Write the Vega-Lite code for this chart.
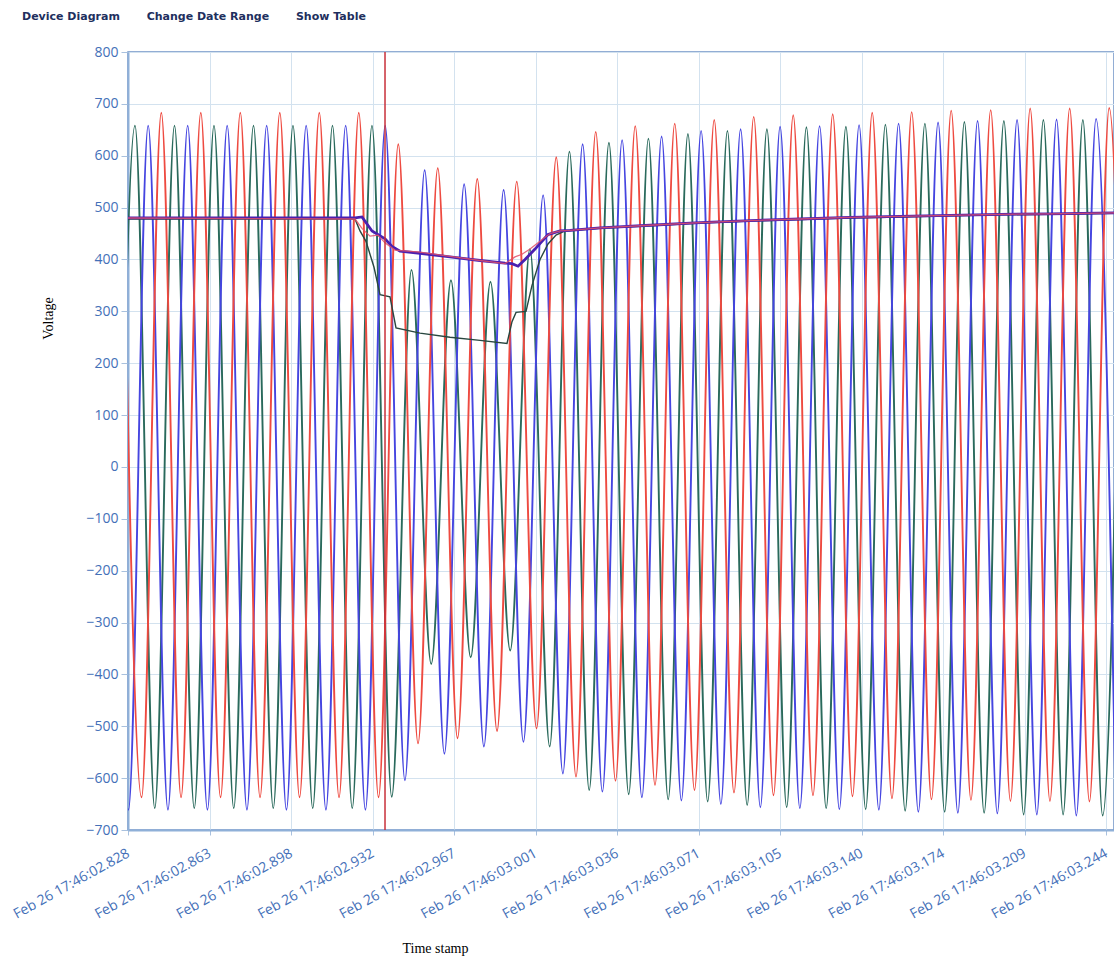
{
  "$schema": "https://vega.github.io/schema/vega-lite/v6.json",
  "autosize": {"type": "none"},
  "padding": {"left": 128, "top": 52, "right": 0, "bottom": 132},
  "width": 986,
  "height": 778,
  "background": "white",
  "title": {
    "text": "Device Diagram\u00a0\u00a0\u00a0\u00a0\u00a0\u00a0\u00a0Change Date Range\u00a0\u00a0\u00a0\u00a0\u00a0\u00a0\u00a0Show Table",
    "anchor": "start",
    "frame": "group",
    "dx": -106,
    "offset": 23,
    "font": "DejaVu Sans",
    "fontSize": 11,
    "fontWeight": "bold",
    "color": "#1e2f5e"
  },
  "config": {
    "view": {"stroke": "#6f93c6", "strokeWidth": 1.5},
    "axis": {
      "labelFont": "Open Sans",
      "labelFontSize": 14,
      "labelColor": "#4470b8",
      "gridColor": "#d3e2ef",
      "gridWidth": 1,
      "tickColor": "#a9c1de",
      "domainColor": "#8fb0d8",
      "domainWidth": 2,
      "titleFont": "Liberation Serif",
      "titleFontSize": 14,
      "titleFontWeight": "normal",
      "titleColor": "#000000"
    }
  },
  "datasets": {
    "waves": [
      {"p":"T","t":2822.92,"v":-658},{"p":"T","t":2831.30,"v":658},{"p":"T","t":2839.69,"v":-658},{"p":"T","t":2848.07,"v":658},
      {"p":"T","t":2856.46,"v":-658},{"p":"T","t":2864.84,"v":658},{"p":"T","t":2873.23,"v":-658},{"p":"T","t":2881.61,"v":658},
      {"p":"T","t":2890.00,"v":-658},{"p":"T","t":2898.38,"v":658},{"p":"T","t":2906.77,"v":-658},{"p":"T","t":2915.15,"v":658},
      {"p":"T","t":2923.54,"v":-658},{"p":"T","t":2931.92,"v":658},{"p":"T","t":2940.31,"v":-636},{"p":"T","t":2948.69,"v":380},
      {"p":"T","t":2957.08,"v":-380},{"p":"T","t":2965.46,"v":360},{"p":"T","t":2973.85,"v":-367},{"p":"T","t":2982.23,"v":357},
      {"p":"T","t":2990.62,"v":-354},{"p":"T","t":2999.00,"v":420},{"p":"T","t":3007.39,"v":-539},{"p":"T","t":3015.77,"v":608},
      {"p":"T","t":3024.16,"v":-623},{"p":"T","t":3032.54,"v":625},{"p":"T","t":3040.93,"v":-631},{"p":"T","t":3049.31,"v":633},
      {"p":"T","t":3057.70,"v":-641},{"p":"T","t":3066.08,"v":642},{"p":"T","t":3074.47,"v":-645},{"p":"T","t":3082.85,"v":648},
      {"p":"T","t":3091.24,"v":-652},{"p":"T","t":3099.62,"v":651},{"p":"T","t":3108.01,"v":-656},{"p":"T","t":3116.39,"v":655},
      {"p":"T","t":3124.78,"v":-658},{"p":"T","t":3133.16,"v":656},{"p":"T","t":3141.55,"v":-660},{"p":"T","t":3149.93,"v":660},
      {"p":"T","t":3158.32,"v":-663},{"p":"T","t":3166.70,"v":662},{"p":"T","t":3175.09,"v":-665},{"p":"T","t":3183.47,"v":665},
      {"p":"T","t":3191.86,"v":-667},{"p":"T","t":3200.24,"v":667},{"p":"T","t":3208.63,"v":-670},{"p":"T","t":3217.01,"v":669},
      {"p":"T","t":3225.40,"v":-670},{"p":"T","t":3233.78,"v":669},{"p":"T","t":3242.17,"v":-672},{"p":"T","t":3250.55,"v":671},

      {"p":"B","t":2820.13,"v":658},{"p":"B","t":2828.52,"v":-661},{"p":"B","t":2836.90,"v":658},{"p":"B","t":2845.29,"v":-661},
      {"p":"B","t":2853.67,"v":658},{"p":"B","t":2862.06,"v":-661},{"p":"B","t":2870.44,"v":658},{"p":"B","t":2878.83,"v":-661},
      {"p":"B","t":2887.21,"v":658},{"p":"B","t":2895.60,"v":-661},{"p":"B","t":2903.98,"v":658},{"p":"B","t":2912.37,"v":-661},
      {"p":"B","t":2920.75,"v":658},{"p":"B","t":2929.14,"v":-661},{"p":"B","t":2937.52,"v":658},{"p":"B","t":2945.91,"v":-604},
      {"p":"B","t":2954.29,"v":572},{"p":"B","t":2962.68,"v":-553},{"p":"B","t":2971.06,"v":545},{"p":"B","t":2979.45,"v":-539},
      {"p":"B","t":2987.83,"v":534},{"p":"B","t":2996.22,"v":-530},{"p":"B","t":3004.60,"v":524},{"p":"B","t":3012.99,"v":-591},
      {"p":"B","t":3021.37,"v":622},{"p":"B","t":3029.76,"v":-626},{"p":"B","t":3038.14,"v":630},{"p":"B","t":3046.53,"v":-637},
      {"p":"B","t":3054.91,"v":637},{"p":"B","t":3063.30,"v":-643},{"p":"B","t":3071.68,"v":648},{"p":"B","t":3080.07,"v":-650},
      {"p":"B","t":3088.45,"v":651},{"p":"B","t":3096.84,"v":-656},{"p":"B","t":3105.22,"v":656},{"p":"B","t":3113.61,"v":-658},
      {"p":"B","t":3121.99,"v":657},{"p":"B","t":3130.38,"v":-660},{"p":"B","t":3138.76,"v":659},{"p":"B","t":3147.15,"v":-661},
      {"p":"B","t":3155.53,"v":662},{"p":"B","t":3163.92,"v":-665},{"p":"B","t":3172.30,"v":664},{"p":"B","t":3180.69,"v":-667},
      {"p":"B","t":3189.07,"v":667},{"p":"B","t":3197.46,"v":-668},{"p":"B","t":3205.84,"v":669},{"p":"B","t":3214.23,"v":-670},
      {"p":"B","t":3222.61,"v":670},{"p":"B","t":3231.00,"v":-672},{"p":"B","t":3239.38,"v":671},{"p":"B","t":3247.77,"v":-673},

      {"p":"R","t":2825.70,"v":683},{"p":"R","t":2834.09,"v":-637},{"p":"R","t":2842.47,"v":683},{"p":"R","t":2850.86,"v":-637},
      {"p":"R","t":2859.24,"v":683},{"p":"R","t":2867.63,"v":-637},{"p":"R","t":2876.01,"v":683},{"p":"R","t":2884.40,"v":-637},
      {"p":"R","t":2892.78,"v":683},{"p":"R","t":2901.17,"v":-637},{"p":"R","t":2909.55,"v":683},{"p":"R","t":2917.94,"v":-637},
      {"p":"R","t":2926.32,"v":683},{"p":"R","t":2934.71,"v":-637},{"p":"R","t":2943.09,"v":622},{"p":"R","t":2951.48,"v":-533},
      {"p":"R","t":2959.86,"v":576},{"p":"R","t":2968.25,"v":-523},{"p":"R","t":2976.63,"v":555},{"p":"R","t":2985.02,"v":-509},
      {"p":"R","t":2993.40,"v":550},{"p":"R","t":3001.79,"v":-504},{"p":"R","t":3010.17,"v":597},{"p":"R","t":3018.56,"v":-597},
      {"p":"R","t":3026.94,"v":646},{"p":"R","t":3035.33,"v":-605},{"p":"R","t":3043.71,"v":657},{"p":"R","t":3052.10,"v":-613},
      {"p":"R","t":3060.48,"v":662},{"p":"R","t":3068.87,"v":-623},{"p":"R","t":3077.25,"v":669},{"p":"R","t":3085.64,"v":-628},
      {"p":"R","t":3094.02,"v":675},{"p":"R","t":3102.41,"v":-633},{"p":"R","t":3110.79,"v":678},{"p":"R","t":3119.18,"v":-633},
      {"p":"R","t":3127.56,"v":680},{"p":"R","t":3135.95,"v":-635},{"p":"R","t":3144.33,"v":683},{"p":"R","t":3152.72,"v":-639},
      {"p":"R","t":3161.10,"v":684},{"p":"R","t":3169.49,"v":-641},{"p":"R","t":3177.87,"v":687},{"p":"R","t":3186.26,"v":-642},
      {"p":"R","t":3194.64,"v":688},{"p":"R","t":3203.03,"v":-644},{"p":"R","t":3211.41,"v":691},{"p":"R","t":3219.80,"v":-644},
      {"p":"R","t":3228.18,"v":691},{"p":"R","t":3236.57,"v":-645},{"p":"R","t":3244.95,"v":692},{"p":"R","t":3253.34,"v":-646}
    ],
    "rms": [
      {"p":"T","t":2824.93,"v":478},{"p":"T","t":2924.72,"v":478},{"p":"T","t":2926.84,"v":455},{"p":"T","t":2929.39,"v":435},
      {"p":"T","t":2932.79,"v":385},{"p":"T","t":2935.34,"v":332},{"p":"T","t":2939.58,"v":328},{"p":"T","t":2942.13,"v":268},
      {"p":"T","t":2952.32,"v":258},{"p":"T","t":2965.06,"v":250},{"p":"T","t":2977.80,"v":244},{"p":"T","t":2989.26,"v":238},
      {"p":"T","t":2991.39,"v":280},{"p":"T","t":2993.09,"v":298},{"p":"T","t":2997.33,"v":300},{"p":"T","t":2999.88,"v":350},
      {"p":"T","t":3003.28,"v":400},{"p":"T","t":3006.67,"v":430},{"p":"T","t":3010.07,"v":447},{"p":"T","t":3013.89,"v":455},
      {"p":"T","t":3028.76,"v":460},{"p":"T","t":3049.99,"v":465},{"p":"T","t":3071.22,"v":470},{"p":"T","t":3092.45,"v":474},
      {"p":"T","t":3113.68,"v":477},{"p":"T","t":3134.91,"v":480},{"p":"T","t":3156.14,"v":482},{"p":"T","t":3177.38,"v":484},
      {"p":"T","t":3198.61,"v":486},{"p":"T","t":3219.84,"v":487},{"p":"T","t":3249.56,"v":489},

      {"p":"R","t":2824.93,"v":480},{"p":"R","t":2924.72,"v":478},{"p":"R","t":2927.69,"v":460},{"p":"R","t":2931.09,"v":445},
      {"p":"R","t":2934.49,"v":447},{"p":"R","t":2937.46,"v":432},{"p":"R","t":2941.71,"v":418},{"p":"R","t":2952.32,"v":414},
      {"p":"R","t":2965.06,"v":406},{"p":"R","t":2977.80,"v":398},{"p":"R","t":2988.42,"v":392},{"p":"R","t":2992.66,"v":405},
      {"p":"R","t":2995.63,"v":410},{"p":"R","t":2999.03,"v":420},{"p":"R","t":3003.28,"v":435},{"p":"R","t":3007.52,"v":450},
      {"p":"R","t":3011.77,"v":455},{"p":"R","t":3016.02,"v":456},{"p":"R","t":3028.76,"v":461},{"p":"R","t":3049.99,"v":466},
      {"p":"R","t":3071.22,"v":471},{"p":"R","t":3092.45,"v":475},{"p":"R","t":3113.68,"v":478},{"p":"R","t":3134.91,"v":481},
      {"p":"R","t":3156.14,"v":483},{"p":"R","t":3177.38,"v":485},{"p":"R","t":3198.61,"v":487},{"p":"R","t":3219.84,"v":488},
      {"p":"R","t":3249.56,"v":490},

      {"p":"B","t":2824.93,"v":480},{"p":"B","t":2924.72,"v":480},{"p":"B","t":2927.69,"v":482},{"p":"B","t":2931.94,"v":455},
      {"p":"B","t":2937.46,"v":440},{"p":"B","t":2940.43,"v":425},{"p":"B","t":2943.83,"v":416},{"p":"B","t":2952.32,"v":412},
      {"p":"B","t":2965.06,"v":405},{"p":"B","t":2977.80,"v":398},{"p":"B","t":2988.42,"v":393},{"p":"B","t":2991.39,"v":392},
      {"p":"B","t":2993.94,"v":387},{"p":"B","t":2996.91,"v":400},{"p":"B","t":3001.15,"v":420},{"p":"B","t":3006.67,"v":448},
      {"p":"B","t":3011.77,"v":455},{"p":"B","t":3016.02,"v":456},{"p":"B","t":3028.76,"v":461},{"p":"B","t":3049.99,"v":466},
      {"p":"B","t":3071.22,"v":471},{"p":"B","t":3092.45,"v":475},{"p":"B","t":3113.68,"v":478},{"p":"B","t":3134.91,"v":481},
      {"p":"B","t":3156.14,"v":483},{"p":"B","t":3177.38,"v":485},{"p":"B","t":3198.61,"v":487},{"p":"B","t":3219.84,"v":488},
      {"p":"B","t":3249.56,"v":490}
    ],
    "cursor": [{"t": 2937.46}]
  },
  "layer": [
    {
      "data": {"name": "waves"},
      "mark": {"type": "line", "interpolate": "monotone", "strokeWidth": 1.9, "clip": true},
      "encoding": {
        "x": {
          "field": "t", "type": "quantitative",
          "scale": {"domain": [2828.33, 3247.0], "nice": false, "zero": false},
          "axis": {
            "title": "Time stamp",
            "titleX": 307, "titleY": 118, "titleAlign": "center", "titleBaseline": "middle",
            "values": [2828.33, 2862.94, 2897.55, 2932.16, 2966.77, 3001.38, 3035.99, 3070.60, 3105.21, 3139.82, 3174.43, 3209.04, 3243.65],
            "labelExpr": "'Feb 26 17:46:0' + format(datum.value / 1000, '.3f')",
            "labelAngle": -29, "labelAlign": "right", "labelBaseline": "middle",
            "labelPadding": 17, "labelOverlap": false, "labelFlush": false, "labelBound": false,
            "tickSize": 5, "grid": true
          }
        },
        "y": {
          "field": "v", "type": "quantitative",
          "scale": {"domain": [-700, 800], "nice": false, "zero": false},
          "axis": {
            "title": "Voltage",
            "titleX": -80, "titleY": 266, "titleAlign": "center", "titleBaseline": "middle",
            "values": [-700, -600, -500, -400, -300, -200, -100, 0, 100, 200, 300, 400, 500, 600, 700, 800],
            "labelPadding": 3, "tickSize": 7, "grid": true, "labelOverlap": false
          }
        },
        "color": {
          "field": "p", "type": "nominal", "legend": null,
          "scale": {"domain": ["T", "B", "R"], "range": ["#2a6a5c", "#4545e0", "#ee4a40"]}
        }
      }
    },
    {
      "data": {"name": "rms"},
      "transform": [{"filter": "datum.p == 'T'"}],
      "mark": {"type": "line", "color": "#28463f", "strokeWidth": 1.4, "clip": true},
      "encoding": {"x": {"field": "t", "type": "quantitative"}, "y": {"field": "v", "type": "quantitative"}}
    },
    {
      "data": {"name": "rms"},
      "transform": [{"filter": "datum.p == 'B'"}],
      "mark": {"type": "line", "color": "#4a20b0", "strokeWidth": 2.8, "clip": true},
      "encoding": {"x": {"field": "t", "type": "quantitative"}, "y": {"field": "v", "type": "quantitative"}}
    },
    {
      "data": {"name": "rms"},
      "transform": [{"filter": "datum.p == 'R'"}],
      "mark": {"type": "line", "color": "#e0506a", "strokeWidth": 1.3, "opacity": 0.85, "clip": true},
      "encoding": {"x": {"field": "t", "type": "quantitative"}, "y": {"field": "v", "type": "quantitative"}}
    },
    {
      "data": {"name": "cursor"},
      "mark": {"type": "rule", "color": "#c8303a", "strokeWidth": 1.5},
      "encoding": {"x": {"field": "t", "type": "quantitative"}}
    }
  ]
}
